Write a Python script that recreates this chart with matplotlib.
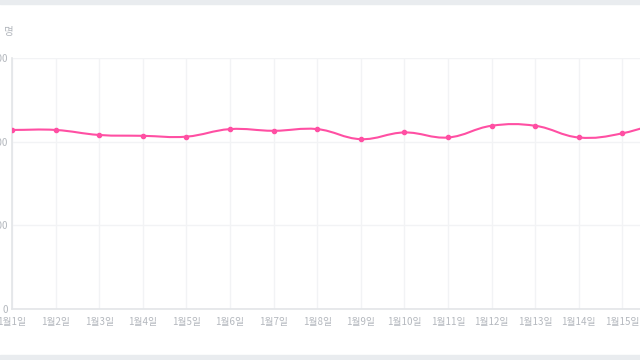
import numpy as np
import matplotlib
matplotlib.use("Agg")
import matplotlib.pyplot as plt
from matplotlib.path import Path
from matplotlib.patches import PathPatch

plt.rcParams['font.family'] = ['Noto Sans CJK KR', 'DejaVu Sans']

# data
days = [f"1월{d}일" for d in range(1, 17)]
counts = [214, 214, 208, 207, 206, 215, 213, 215, 203, 211, 205, 219, 219, 205, 210, 226]
y_ticks = [0, 100, 200, 300]
unit = "명"

pink = "#ff4fa3"
grid_c = "#f2f3f5"
axis_c = "#e3e5e8"
text_c = "#b4b8be"


def spline_path(xs, ys, t=0.4, sx=43.6, sy=251 / 300):
    # cardinal spline like chart.js tension 0.4, distances measured in pixels
    xs = np.asarray(xs, float)
    ys = np.asarray(ys, float)
    n = len(xs)
    cin = [(xs[0], ys[0])] * n
    cout = [(xs[-1], ys[-1])] * n
    for i in range(n):
        p = max(i - 1, 0)
        q = min(i + 1, n - 1)
        d01 = np.hypot((xs[i] - xs[p]) * sx, (ys[i] - ys[p]) * sy)
        d12 = np.hypot((xs[q] - xs[i]) * sx, (ys[q] - ys[i]) * sy)
        tot = d01 + d12
        fa = t * d01 / tot
        fb = t * d12 / tot
        dx, dy = xs[q] - xs[p], ys[q] - ys[p]
        cin[i] = (xs[i] - fa * dx, ys[i] - fa * dy)
        cout[i] = (xs[i] + fb * dx, ys[i] + fb * dy)
    verts = [(xs[0], ys[0])]
    codes = [Path.MOVETO]
    for i in range(n - 1):
        verts += [cout[i], cin[i + 1], (xs[i + 1], ys[i + 1])]
        codes += [Path.CURVE4] * 3
    return Path(verts, codes)


fig = plt.figure(figsize=(6.4, 3.6), dpi=100)
fig.patches.append(plt.Rectangle((0, 1 - 4 / 360), 1, 4 / 360, transform=fig.transFigure,
                                 color="#e9ecef", zorder=0))
fig.patches.append(plt.Rectangle((0, 0), 1, 5 / 360, transform=fig.transFigure,
                                 color="#e9ecef", zorder=0))

ax = fig.add_axes([12 / 640, 51 / 360, 654 / 640, 251 / 360])
x = np.arange(len(days))

ax.add_patch(PathPatch(spline_path(x, counts), fill=False, edgecolor=pink, lw=1.5,
                       zorder=3, capstyle='round'))
ax.plot(x, counts, 'o', color=pink, ms=3, zorder=4)

ax.set_xlim(0, len(days) - 1)
ax.set_ylim(y_ticks[0], y_ticks[-1])
ax.set_xticks(x)
ax.set_xticklabels(days)
ax.set_yticks(y_ticks)
ax.set_yticklabels([str(v) for v in y_ticks])
ax.tick_params(length=0, colors=text_c, labelsize=7)
ax.tick_params(axis='x', pad=6)
ax.tick_params(axis='y', pad=3)
ax.grid(True, color=grid_c, lw=1)
for s in ['top', 'right']:
    ax.spines[s].set_visible(False)
for s in ['left', 'bottom']:
    ax.spines[s].set_color(axis_c)
    ax.spines[s].set_linewidth(1.2)

fig.text(4 / 640, 1 - 32 / 360, unit, color=text_c, fontsize=7.5, va='center', ha='left')

fig.savefig("out.png", dpi=100)
